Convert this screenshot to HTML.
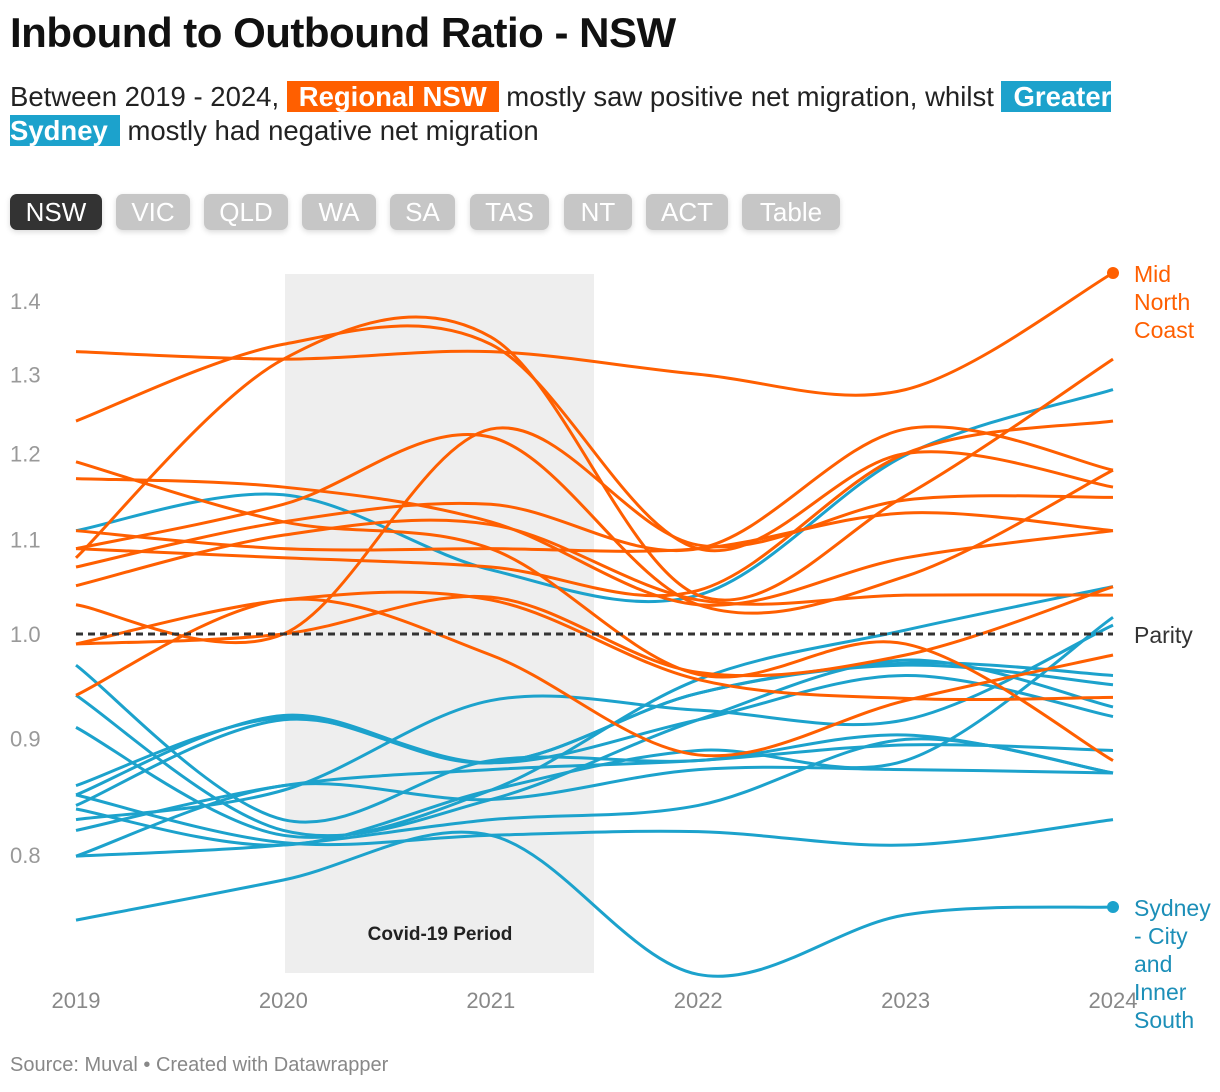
<!DOCTYPE html>
<html><head><meta charset="utf-8">
<style>
body{margin:0;width:1220px;height:1092px;background:#fff;font-family:"Liberation Sans",sans-serif;overflow:hidden;position:relative}
.title{position:absolute;left:10px;top:9px;font-size:42px;font-weight:bold;color:#111;letter-spacing:-0.5px}
.sub{position:absolute;left:10px;top:80px;width:1110px;font-size:27.5px;line-height:34px;color:#222}
.hl{color:#fff;font-weight:bold;padding:0 12px 0 12px}
.tab{position:absolute;top:194px;height:36px;border-radius:7px;background:#c6c6c6;color:#fff;font-size:26px;line-height:36px;text-align:center;box-shadow:0 2px 6px rgba(0,0,0,0.15)}
.src{position:absolute;left:10px;top:1054px;font-size:20px;color:#888}
</style></head><body>
<div class="title">Inbound to Outbound Ratio - NSW</div>
<div class="sub">Between 2019 - 2024, <span class="hl" style="background:#ff5f00">Regional NSW</span> mostly saw positive net migration, whilst <span class="hl" style="background:#1ca2cc">Greater Sydney</span> mostly had negative net migration</div>
<div class="tab" style="left:10px;width:92px;background:#333">NSW</div>
<div class="tab" style="left:116px;width:74px">VIC</div>
<div class="tab" style="left:204px;width:84px">QLD</div>
<div class="tab" style="left:302px;width:74px">WA</div>
<div class="tab" style="left:390px;width:65px">SA</div>
<div class="tab" style="left:470px;width:79px">TAS</div>
<div class="tab" style="left:564px;width:68px">NT</div>
<div class="tab" style="left:646px;width:82px">ACT</div>
<div class="tab" style="left:742px;width:98px">Table</div>
<svg id="chart" width="1220" height="1092" style="position:absolute;left:0;top:0"></svg>
<div class="src">Source: Muval • Created with Datawrapper</div>
<script>
const years=[2019,2020,2021,2022,2023,2024];
const yTicks=[1.4,1.3,1.2,1.1,1.0,0.9,0.8];
const regional=[
[1.33,1.32,1.33,1.30,1.28,1.44],
[1.24,1.34,1.34,1.09,1.20,1.16],
[1.08,1.32,1.35,1.04,1.15,1.32],
[1.19,1.12,1.09,0.96,0.99,0.88],
[1.17,1.16,1.12,1.03,1.08,1.11],
[1.11,1.09,1.09,1.09,1.13,1.11],
[1.09,1.14,1.22,1.03,1.06,1.18],
[1.09,1.08,1.07,1.045,1.20,1.24],
[1.07,1.12,1.14,1.09,1.23,1.18],
[1.05,1.105,1.117,1.035,1.04,1.04],
[1.03,1.00,1.23,1.094,1.145,1.148],
[0.99,1.00,1.038,0.962,0.979,1.049],
[0.99,1.035,1.035,0.955,0.937,0.938],
[0.94,1.035,0.979,0.885,0.935,0.979]];
const sydney=[
[1.11,1.151,1.067,1.04,1.198,1.28],
[0.969,0.829,0.88,0.88,0.903,0.869],
[0.94,0.82,0.846,0.917,0.974,0.929],
[0.91,0.816,0.854,0.955,1.004,1.049],
[0.858,0.919,0.878,0.942,0.971,0.959],
[0.85,0.921,0.878,0.942,0.969,0.95],
[0.841,0.917,0.878,0.917,0.959,0.92],
[0.829,0.854,0.935,0.926,0.917,1.009],
[0.82,0.858,0.872,0.88,0.894,0.889],
[0.799,0.808,0.829,0.841,0.899,0.869],
[0.799,0.858,0.846,0.872,0.872,0.869],
[0.749,0.78,0.816,0.709,0.753,0.759],
[0.85,0.81,0.816,0.819,0.808,0.829],
[0.838,0.808,0.854,0.889,0.88,1.017]];
const NS='http://www.w3.org/2000/svg';
const svg=document.getElementById('chart');
const X=y=>76+(y-2019)*207.4;
const Y=v=>634-990*Math.log(v);
function mk(t,a){const e=document.createElementNS(NS,t);for(const k in a)e.setAttribute(k,a[k]);svg.appendChild(e);return e;}
const band=mk('rect',{x:285,y:274,width:309,height:699,fill:'#eeeeee'});


const bl=mk('text',{x:440,y:940,'text-anchor':'middle','font-size':19,'font-weight':'bold',fill:'#222'});bl.textContent='Covid-19 Period';


yTicks.forEach(t=>{const e=mk('text',{x:10,y:Y(t)+8,'font-size':22,fill:'#999'});e.textContent=t.toFixed(1);

});
years.forEach(yr=>{const e=mk('text',{x:X(yr),y:1008,'font-size':22,fill:'#888','text-anchor':'middle'});e.textContent=yr;

});
function path(vals){const p=vals.map((v,i)=>[X(years[i]),Y(v)]);let d='M'+p[0][0]+','+p[0][1];
for(let i=0;i<p.length-1;i++){const p0=p[i-1]||p[i],p1=p[i],p2=p[i+1],p3=p[i+2]||p2;
d+=` C${p1[0]+(p2[0]-p0[0])/6},${p1[1]+(p2[1]-p0[1])/6} ${p2[0]-(p3[0]-p1[0])/6},${p2[1]-(p3[1]-p1[1])/6} ${p2[0]},${p2[1]}`;}return d;}
sydney.forEach(s=>{const e=mk('path',{d:path(s),fill:'none',stroke:'#1ca2cc','stroke-width':3});

});
regional.forEach(s=>{const e=mk('path',{d:path(s),fill:'none',stroke:'#ff5f00','stroke-width':3});

});
const par=mk('line',{x1:76,x2:1113,y1:Y(1),y2:Y(1),stroke:'#333','stroke-width':3,'stroke-dasharray':'7,5'});


const pl=mk('text',{x:1134,y:Y(1)+9,'font-size':23,fill:'#333'});pl.textContent='Parity';


const d1=mk('circle',{cx:X(2024),cy:Y(regional[0][5]),r:6,fill:'#ff5f00'});


const d2=mk('circle',{cx:X(2024),cy:Y(sydney[11][5]),r:6,fill:'#1ca2cc'});


['Mid','North','Coast'].forEach((t,i)=>{const e=mk('text',{x:1134,y:282+i*28,'font-size':23,fill:'#ff5f00'});e.textContent=t;

});
['Sydney','- City','and','Inner','South'].forEach((t,i)=>{const e=mk('text',{x:1134,y:916+i*28,'font-size':23,fill:'#1c8fb8'});e.textContent=t;

});
</script>
</body></html>
